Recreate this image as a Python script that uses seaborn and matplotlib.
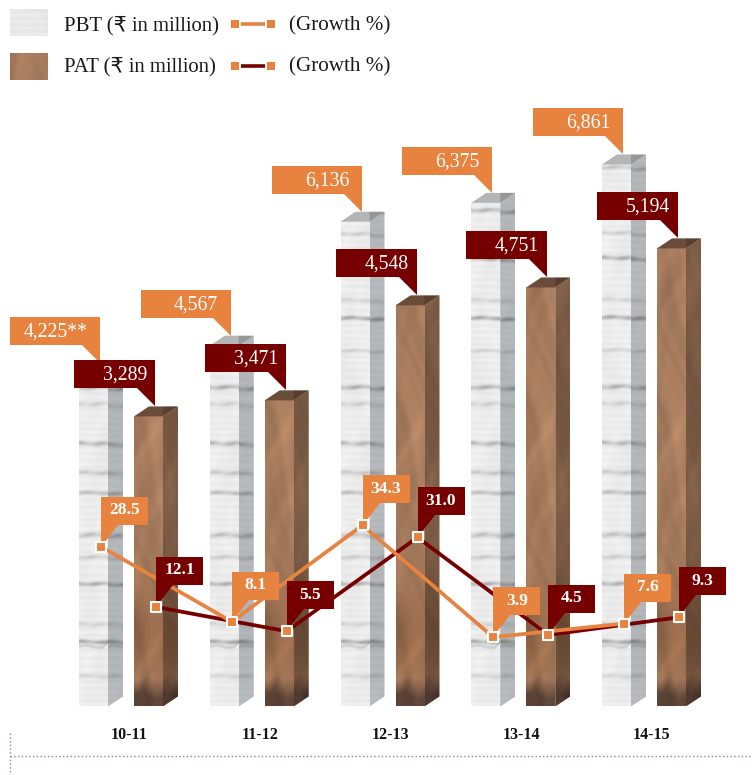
"""Recreate the PBT / PAT 3D column chart with growth lines, drawn with seaborn."""

import numpy as np
import pandas as pd
import seaborn as sns
import matplotlib

matplotlib.use("Agg")
import matplotlib.pyplot as plt
from matplotlib.patches import Polygon
from matplotlib.transforms import IdentityTransform, ScaledTranslation

years = ["10-11", "11-12", "12-13", "13-14", "14-15"]
pbt = [4225, 4567, 6136, 6375, 6861]
pat = [3289, 3471, 4548, 4751, 5194]
pbt_labels = ["4,225**", "4,567", "6,136", "6,375", "6,861"]
pat_labels = ["3,289", "3,471", "4,548", "4,751", "5,194"]
pbt_growth = [28.5, 8.1, 34.3, 3.9, 7.6]
pat_growth = [12.1, 5.5, 31.0, 4.5, 9.3]

ORANGE = "#E8833F"
MAROON = "#760000"
SERIF = ["Liberation Serif", "DejaVu Sans"]

W, H = 752, 775
BASELINE = 706.5
PITCH = 130.75
BAR_W = 29
DEPTH_X, DEPTH_Y = 15, 10
PBT_PX = 0.0790
PAT_PX = 0.0882
GROWTH_PX = 3.68
GROWTH_ZERO = 651.5

sns.set_theme(style="white")
plt.rcParams["font.family"] = SERIF


def full_axes(fig, x0, base, scale, zorder):
    """Transparent axes over the whole figure, category 0 at x0, value 0 at base."""
    ax = fig.add_axes([0, 0, 1, 1], zorder=zorder)
    ax.patch.set_alpha(0)
    ax.set_xlim(-x0 / PITCH, (W - x0) / PITCH)
    ax.set_ylim((base - H) / scale, base / scale)
    return ax


def mottle(xx, yy, seed):
    # layered sines with a warp stand in for the photo texture
    wx = xx + 7 * np.sin(yy * 0.031 + seed)
    wy = yy + 9 * np.sin(xx * 0.09 + seed * 2.1)
    out = np.zeros_like(xx, dtype=float)
    for k, (fx, fy) in enumerate([(0.13, 0.029), (0.21, 0.061), (0.33, 0.113), (0.47, 0.17)]):
        out += np.sin(fx * wx + seed * (k + 1.3)) * np.sin(fy * wy + seed * 0.7 * (k + 2)) / (1 + k * 0.8)
    return out / 1.6


def brick_texture(width, rows, seed=1.0, side=False):
    yy, xx = np.mgrid[rows - 1:-1:-1, 0:width]
    img = 0.93 + 0.018 * mottle(xx, yy, seed) + 0.012 * np.sin(yy * 0.9 + 2 * np.sin(yy * 0.07))
    for m in range(0, 34):
        pos = 29 + 29.5 * m + 7 * np.sin(m * 2.3)
        depth = 0.10 + 0.16 * np.sin(m * 1.7) ** 2
        wave = pos + 0.6 * np.sin(xx * 0.2 + m)
        img -= depth * np.exp(-((yy - wave) ** 2) / 5.0) * (0.8 + 0.2 * np.sin(xx * 0.3 + m))
    # crack near the foot of the column
    crack = 59 + np.sin(xx * 0.25) + np.where(xx > width * 0.82, (xx - width * 0.82) * 0.8, 0)
    img -= 0.12 * np.exp(-((yy - crack) ** 2) / 3.0)
    if side:
        img = img * 0.77
        rgb = np.dstack([img * 0.98, img * 1.0, img * 1.02])
    else:
        rgb = np.dstack([img, img, img])
    return np.clip(rgb, 0, 1)


def wood_texture(width, rows, seed=2.0, side=False):
    yy, xx = np.mgrid[rows - 1:-1:-1, 0:width]
    noise = mottle(xx, yy, seed)
    base = np.array([0.66, 0.49, 0.37])
    img = base[None, None, :] * (1 + 0.11 * noise)[:, :, None]
    # browner patch above the foot
    mid = np.exp(-((yy - 70) ** 2) / 2500.0)[:, :, None]
    img = img * (1 - 0.16 * mid * np.array([0.7, 0.95, 1.25]))
    foot = np.clip((28 + 8 * mottle(xx, yy, seed + 1.7) - yy) / 18, 0, 1)[:, :, None]
    dark = np.array([0.37, 0.27, 0.22]) * (1 + 0.14 * noise)[:, :, None]
    img = img * (1 - foot) + dark * foot
    if side:
        img = img * 0.72
    return np.clip(img, 0, 1)


def draw_columns(fig, values, labels, x0, scale, texture, top_color, box_color, box_w, margin, zorder):
    ax = full_axes(fig, x0, BASELINE, scale, zorder)
    sns.barplot(x=years, y=values, ax=ax, color=top_color, width=BAR_W / PITCH, saturation=1, legend=False)
    ax.axis("off")

    dx, dy = DEPTH_X / PITCH, DEPTH_Y / scale
    for patch, label in zip(ax.patches, labels):
        left, right, val = patch.get_x(), patch.get_x() + patch.get_width(), patch.get_height()
        rows = int(round(val * scale)) + DEPTH_Y + 2
        patch.set_facecolor("none")
        patch.set_edgecolor("none")

        front = texture(BAR_W, rows)[DEPTH_Y + 2:]
        im = ax.imshow(front, extent=(left, right, 0, val), aspect="auto", zorder=3, interpolation="bilinear")
        im.set_clip_path(patch)

        side_shape = Polygon([(right, 0), (right + dx, dy), (right + dx, val + dy), (right, val)], transform=ax.transData)
        side = texture(DEPTH_X, rows, seed=3.3, side=True)
        im = ax.imshow(side, extent=(right, right + dx, 0, val + dy), aspect="auto", zorder=3, interpolation="bilinear")
        im.set_clip_path(side_shape)

        ax.add_patch(Polygon([(left, val), (right, val), (right + dx, val + dy), (left + dx, val + dy)],
                             facecolor=top_color, edgecolor="none", zorder=4))
        ax.add_patch(Polygon([(right, val), (right + dx, val + dy), (right, val + dy)],
                             facecolor="black", alpha=0.16, edgecolor="none", zorder=4))

        # callout hangs from the back edge of the top face
        tip = ScaledTranslation(left + 21 / PITCH, val + dy, ax.transData)
        trans = IdentityTransform() + tip
        ax.add_patch(Polygon([(0, 0), (0, 18), (0, 46), (-box_w, 46), (-box_w, 18), (-18, 18)],
                             transform=trans, facecolor=box_color, edgecolor="none", zorder=6))
        ax.text(-margin, 31, label, transform=trans, color="white", fontsize=14.2,
                ha="right", va="center", zorder=7)
    ax.set_xlim(-x0 / PITCH, (W - x0) / PITCH)
    ax.set_ylim((BASELINE - H) / scale, BASELINE / scale)
    return ax


def draw_growth(fig):
    ax = full_axes(fig, 101, GROWTH_ZERO, GROWTH_PX, 5)
    idx = np.arange(len(years))
    df = pd.DataFrame({
        "pos": np.concatenate([idx + 55 / PITCH, idx]),
        "growth": pat_growth + pbt_growth,
        "series": ["PAT"] * 5 + ["PBT"] * 5,
    })
    sns.lineplot(data=df, x="pos", y="growth", hue="series", palette={"PAT": MAROON, "PBT": ORANGE},
                 sort=False, linewidth=2.7, legend=False, ax=ax, zorder=3)
    for _, row in df.iterrows():
        color = ORANGE if row["series"] == "PBT" else MAROON
        trans = IdentityTransform() + ScaledTranslation(row["pos"], row["growth"], ax.transData)
        ax.add_patch(Polygon([(0, 0), (0, 22), (0, 50), (47, 50), (47, 22), (17, 22)],
                             transform=trans, facecolor=color, edgecolor="none", zorder=4))
        ax.text(23.5, 36.5, f"{row['growth']:.1f}", transform=trans, color="white", fontsize=12.5,
                fontweight="bold", ha="center", va="center", zorder=5)
    sns.scatterplot(data=df, x="pos", y="growth", color=ORANGE, marker="s", s=42, linewidth=1.5,
                    edgecolor="white", legend=False, ax=ax, zorder=6)
    ax.set_xlim(-101 / PITCH, (W - 101) / PITCH)
    ax.set_ylim((GROWTH_ZERO - H) / GROWTH_PX, GROWTH_ZERO / GROWTH_PX)
    ax.axis("off")
    return ax


def draw_year_axis(fig):
    ax = fig.add_axes([0, (H - BASELINE) / H, 1, BASELINE / H], zorder=1)
    ax.patch.set_alpha(0)
    ax.set_xlim(-129 / PITCH, (W - 129) / PITCH)
    ax.set_xticks(range(len(years)), years, fontsize=11.5, fontweight="bold", color="#111111")
    ax.set_yticks([])
    ax.tick_params(axis="x", length=0, pad=14.5)
    sns.despine(ax=ax, left=True, bottom=True)


def draw_legend(fig):
    ax = fig.add_axes([0, 0, 1, 1], zorder=8)
    ax.patch.set_alpha(0)
    ax.axis("off")
    ax.set_xlim(0, W)
    ax.set_ylim(H, 0)
    rows = [(9, 36, 24, 30, brick_texture(38, 27, seed=5.0) * 0.98, "PBT", ORANGE),
            (53, 80, 66, 71.5, wood_texture(38, 260, seed=4.0)[:27], "PAT", MAROON)]
    for top, bottom, line_y, text_y, swatch, name, color in rows:
        ax.imshow(swatch, extent=(10, 48, bottom, top), aspect="auto", interpolation="bilinear")
        ax.text(63.5, text_y, f"{name} (\u20b9 in million)", fontsize=14.9, color="#1a1a1a", va="baseline")
        ax.text(289, text_y, "(Growth %)", fontsize=15.2, color="#1a1a1a", va="baseline")
        ax.plot([241, 265], [line_y, line_y], color=color, linewidth=2.6, solid_capstyle="butt")
        ax.plot([235, 271], [line_y, line_y], linestyle="none", marker="s", markersize=5.6,
                color=ORANGE, markeredgewidth=0)
    # dotted rule at the foot of the page
    ax.plot([10, W], [756, 756], color="#a08080", linewidth=1.0, linestyle=(0, (1, 1.7)))
    ax.plot([10, 10], [733, H], color="#a08080", linewidth=1.0, linestyle=(0, (1, 1.7)))
    ax.set_xlim(0, W)
    ax.set_ylim(H, 0)


def main():
    fig = plt.figure(figsize=(W / 100, H / 100), dpi=100, facecolor="white")
    draw_year_axis(fig)
    draw_columns(fig, pbt, pbt_labels, 79 + BAR_W / 2, PBT_PX, brick_texture, "#b4b5b6", ORANGE, 90, 12.5, 2)
    draw_columns(fig, pat, pat_labels, 134 + BAR_W / 2, PAT_PX, wood_texture, "#6b4c38", MAROON, 81, 8, 3)
    draw_growth(fig)
    draw_legend(fig)
    fig.savefig("out.png", dpi=100)
    plt.close(fig)


if __name__ == "__main__":
    main()
